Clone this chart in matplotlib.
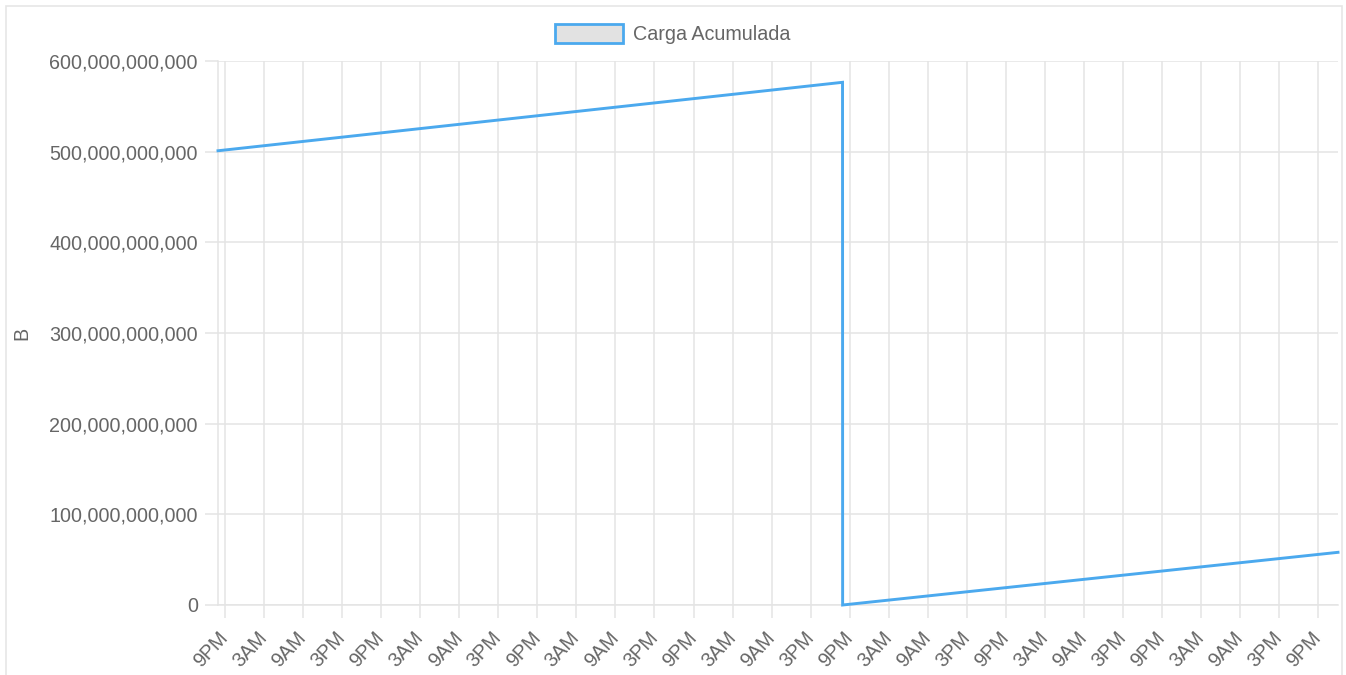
import matplotlib
matplotlib.use("Agg")
import matplotlib.pyplot as plt
import matplotlib.dates as mdates
import matplotlib.ticker as mticker
from matplotlib.patches import Patch, Rectangle
import pandas as pd

# ---- data ----
times = ["2023-05-01 19:55", "2023-05-05 19:54", "2023-05-05 19:55", "2023-05-09 00:03"]
carga = [501e9, 576.5e9, 0.0, 58.1e9]
series_label = "Carga Acumulada"
y_label = "B"
y_ticks = [0, 100e9, 200e9, 300e9, 400e9, 500e9, 600e9]

t = pd.to_datetime(times)

plt.rcParams["font.family"] = ["Liberation Sans", "DejaVu Sans"]
TXT = "#666666"
GRID = "#e4e4e4"
LINE = "#4ba9ee"
FS = 14.2

fig = plt.figure(figsize=(13.46, 6.75), dpi=100)
ax = fig.add_axes([218 / 1346, 1 - 605 / 675, (1338 - 218) / 1346, (605 - 61) / 675])

ax.plot(t, carga, color=LINE, linewidth=2.1, solid_joinstyle="miter", zorder=3, clip_on=False)

ax.set_xlim(t.min(), t.max())
ax.set_ylim(0, 600e9)
ax.set_yticks(y_ticks)
ax.yaxis.set_major_formatter(mticker.FuncFormatter(lambda v, p: f"{int(round(v)):,}"))

ax.xaxis.set_major_locator(mdates.HourLocator(byhour=[3, 9, 15, 21]))

def fmt_time(v, p):
    d = mdates.num2date(v)
    h = d.hour % 12
    if h == 0:
        h = 12
    return f"{h}{'AM' if d.hour < 12 else 'PM'}"

ax.xaxis.set_major_formatter(mticker.FuncFormatter(fmt_time))

ax.grid(True, color=GRID, linewidth=1.1)
ax.set_axisbelow(True)
for s in ["top", "right"]:
    ax.spines[s].set_visible(False)
for s in ["left", "bottom"]:
    ax.spines[s].set_color(GRID)
    ax.spines[s].set_linewidth(1.1)

ax.tick_params(axis="both", length=9.4, width=1.1, color=GRID, labelcolor=TXT, labelsize=FS)
ax.tick_params(axis="y", pad=5)
ax.tick_params(axis="x", pad=12)

for lbl in ax.get_xticklabels():
    lbl.set_rotation(47)
    lbl.set_ha("right")
    lbl.set_va("center")
    lbl.set_rotation_mode("anchor")

ax.set_ylabel(y_label, color=TXT, fontsize=FS)
ax.yaxis.set_label_coords((31 - 218) / 1120, 0.5)

handle = Patch(facecolor="#e2e2e2", edgecolor=LINE, linewidth=2.0, label=series_label)
leg = fig.legend(handles=[handle], loc="center", bbox_to_anchor=(0.5, 1 - 34 / 675),
                 frameon=False, fontsize=FS, handlelength=3.45, handleheight=1.1,
                 handletextpad=0.5, borderpad=0)
for tx in leg.get_texts():
    tx.set_color(TXT)

# outer card frame
fig.patches.append(Rectangle((6 / 1346, -0.05), (1342 - 6) / 1346, 1.05 - 6 / 675,
                             transform=fig.transFigure, fill=False,
                             edgecolor="#e6e6e6", linewidth=1.2))

fig.savefig("out.png", dpi=100, facecolor="white")
